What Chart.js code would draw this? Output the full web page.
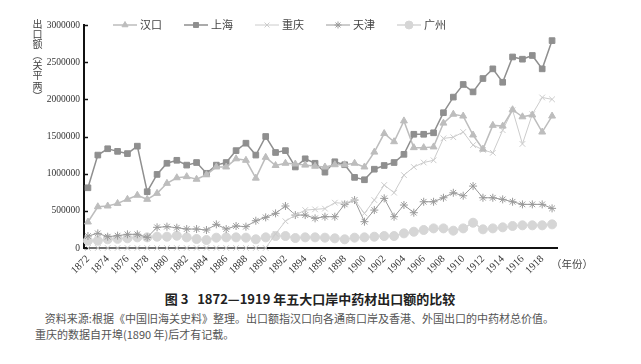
<!DOCTYPE html>
<html>
<head>
<meta charset="utf-8">
<script src="https://cdn.jsdelivr.net/npm/chart.js@4.4.1/dist/chart.umd.min.js"></script>
<style>
  body { margin: 0; background: #fff; }
  #wrap { position: relative; width: 641px; height: 364px; }
  #chart { position: absolute; left: 0; top: 0; }
  #ytitle {
    position: absolute; left: 31px; top: 19px;
    writing-mode: vertical-rl; font: 10px/12px "Noto Sans CJK SC"; color: #444; letter-spacing: 0.3px;
  }
  #caption {
    position: absolute; left: 0; top: 289px; width: 620px; text-align: center;
    font: bold 13px "Noto Sans CJK SC"; color: #222;
  }
  #source {
    position: absolute; left: 35px; top: 310px; white-space: nowrap;
    font: 11px/16px "Noto Sans CJK SC"; color: #555;
  }
</style>
</head>
<body>
<div id="wrap">
  <canvas id="chart" width="641" height="280"></canvas>
  <div id="ytitle">出口额（关平两）</div>
  <div id="caption">图 3&nbsp;&nbsp; 1872—1919 年五大口岸中药材出口额的比较</div>
  <div id="source">&nbsp;&nbsp;&nbsp;&nbsp;资料来源:根据《中国旧海关史料》整理。出口额指汉口向各通商口岸及香港、外国出口的中药材总价值。<br>重庆的数据自开埠(1890 年)后才有记载。</div>
</div>
<script>
const years = [];
for (let y = 1872; y <= 1919; y++) years.push(y);
const yearTicks = years.filter(y => y % 2 === 0);

const hankou = [350000, 555000, 565000, 600000, 655000, 710000, 655000, 735000, 870000, 945000,
  960000, 925000, 985000, 1090000, 1090000, 1200000, 1180000, 940000, 1220000, 1110000,
  1140000, 1130000, 1115000, 1100000, 1090000, 1120000, 1120000, 1140000, 1090000, 1290000,
  1540000, 1430000, 1710000, 1350000, 1350000, 1360000, 1680000, 1800000, 1775000, 1520000,
  1330000, 1650000, 1640000, 1860000, 1765000, 1790000, 1560000, 1775000];
const shanghai = [810000, 1250000, 1335000, 1300000, 1270000, 1370000, 757000, 990000, 1140000, 1180000,
  1115000, 1150000, 1005000, 1115000, 1150000, 1310000, 1410000, 1250000, 1500000, 1285000,
  1310000, 1090000, 1200000, 1140000, 1020000, 1160000, 1120000, 950000, 918000, 1060000,
  1110000, 1150000, 1260000, 1530000, 1530000, 1550000, 1820000, 2030000, 2200000, 2100000,
  2280000, 2410000, 2230000, 2570000, 2540000, 2590000, 2410000, 2790000];
const chongqing = [0, 0, 0, 0, 0, 0, 0, 0, 0, 0,
  0, 0, 0, 0, 0, 0, 0, 0, 0, 190000,
  360000, 443000, 510000, 520000, 530000, 610000, 600000, 645000, 466000, 645000,
  847000, 744000, 981000, 1090000, 1150000, 1180000, 1475000, 1490000, 1560000, 1385000,
  1320000, 1280000, 1585000, 1855000, 1400000, 1800000, 2025000, 2000000];
const tianjin = [161000, 197000, 152000, 166000, 184000, 184000, 143000, 278000, 287000, 273000,
  255000, 255000, 242000, 318000, 255000, 296000, 287000, 367000, 412000, 466000,
  565000, 443000, 443000, 399000, 421000, 421000, 587000, 645000, 354000, 510000,
  668000, 421000, 578000, 475000, 622000, 622000, 676000, 743000, 703000, 833000,
  676000, 676000, 654000, 622000, 587000, 587000, 587000, 533000];
const guangzhou = [98000, 98000, 117000, 123000, 130000, 143000, 143000, 152000, 152000, 165000,
  143000, 121000, 108000, 139000, 143000, 143000, 139000, 117000, 143000, 161000,
  161000, 134000, 143000, 143000, 139000, 130000, 117000, 139000, 143000, 152000,
  161000, 161000, 197000, 219000, 242000, 264000, 264000, 233000, 264000, 340000,
  251000, 264000, 278000, 296000, 305000, 305000, 305000, 318000];

const seriesNames = ['汉口', '上海', '重庆', '天津', '广州'];
const seriesValues = [hankou, shanghai, chongqing, tianjin, guangzhou];
const seriesColors = ['#bdbdbd', '#8f8f8f', '#cccccc', '#9a9a9a', '#d6d6d6'];
const seriesStyles = ['triangle', 'rect', 'crossRot', 'star', 'circle'];
const seriesRadius = [4, 4, 4, 4, 4.5];
const seriesWidth = [1.5, 1.5, 1, 1, 1.5];

const serif = '"Liberation Serif", "DejaVu Serif", serif';

const datasets = seriesNames.map((name, i) => ({
  label: name,
  data: seriesValues[i].map((v, j) => ({ x: years[j], y: v })),
  borderColor: seriesColors[i],
  backgroundColor: seriesColors[i],
  pointBackgroundColor: seriesColors[i],
  pointBorderColor: seriesColors[i],
  pointStyle: seriesStyles[i],
  pointRadius: seriesRadius[i],
  pointBorderWidth: 1,
  borderWidth: seriesWidth[i],
  tension: 0,
  fill: false,
  clip: false,
}));

// legend, inward y ticks and the year label
const decor = {
  id: 'decor',
  afterDraw(chart) {
    const { ctx, chartArea, scales } = chart;
    ctx.save();
    ctx.strokeStyle = '#111';
    ctx.lineWidth = 1.5;
    scales.y.ticks.forEach(t => {
      const y = Math.round(scales.y.getPixelForValue(t.value)) + 0.5;
      ctx.beginPath();
      ctx.moveTo(chartArea.left, y);
      ctx.lineTo(chartArea.left + 4, y);
      ctx.stroke();
    });

    ctx.font = '11px "Noto Sans CJK SC"';
    ctx.textBaseline = 'middle';
    chart.data.datasets.forEach((ds, i) => {
      const x0 = 113 + i * 71, y0 = 25;
      ctx.strokeStyle = ds.borderColor;
      ctx.fillStyle = ds.pointBackgroundColor;
      ctx.lineWidth = ds.borderWidth;
      ctx.beginPath();
      ctx.moveTo(x0, y0);
      ctx.lineTo(x0 + 24, y0);
      ctx.stroke();
      ctx.lineWidth = 1;
      Chart.helpers.drawPoint(ctx, {
        pointStyle: ds.pointStyle, radius: ds.pointRadius - 0.5, rotation: 0, borderWidth: 1
      }, x0 + 12, y0);
      ctx.fillStyle = '#444';
      ctx.fillText(ds.label, x0 + 27, y0);
    });

    ctx.font = '10.5px "Noto Sans CJK SC"';
    ctx.fillStyle = '#444';
    ctx.fillText('（年份）', chartArea.right - 6, 264);
    ctx.restore();
  }
};

new Chart(document.getElementById('chart'), {
  type: 'line',
  data: { datasets },
  options: {
    responsive: false,
    animation: false,
    layout: { padding: { top: 25, right: 84, bottom: 0, left: 0 } },
    plugins: { legend: { display: false }, tooltip: { enabled: false } },
    scales: {
      x: {
        type: 'linear',
        min: 1871.6,
        max: 1919.5,
        afterBuildTicks: s => { s.ticks = yearTicks.map(v => ({ value: v })); },
        afterFit: s => { s.height = 32; },
        grid: { drawOnChartArea: false, drawTicks: false },
        border: { display: true, color: '#111', width: 2 },
        ticks: {
          autoSkip: false, maxRotation: 45, minRotation: 45, padding: 5,
          color: '#333', font: { family: serif, size: 10.5 },
          callback: v => String(v)
        }
      },
      y: {
        min: 0,
        max: 3000000,
        afterFit: s => { s.width = 84; },
        grid: { drawOnChartArea: false, drawTicks: false },
        border: { display: true, color: '#111', width: 2 },
        ticks: {
          stepSize: 500000, padding: 4,
          color: '#333', font: { family: serif, size: 9.5 },
          callback: v => String(v)
        }
      }
    }
  },
  plugins: [decor]
});
</script>
</body>
</html>
